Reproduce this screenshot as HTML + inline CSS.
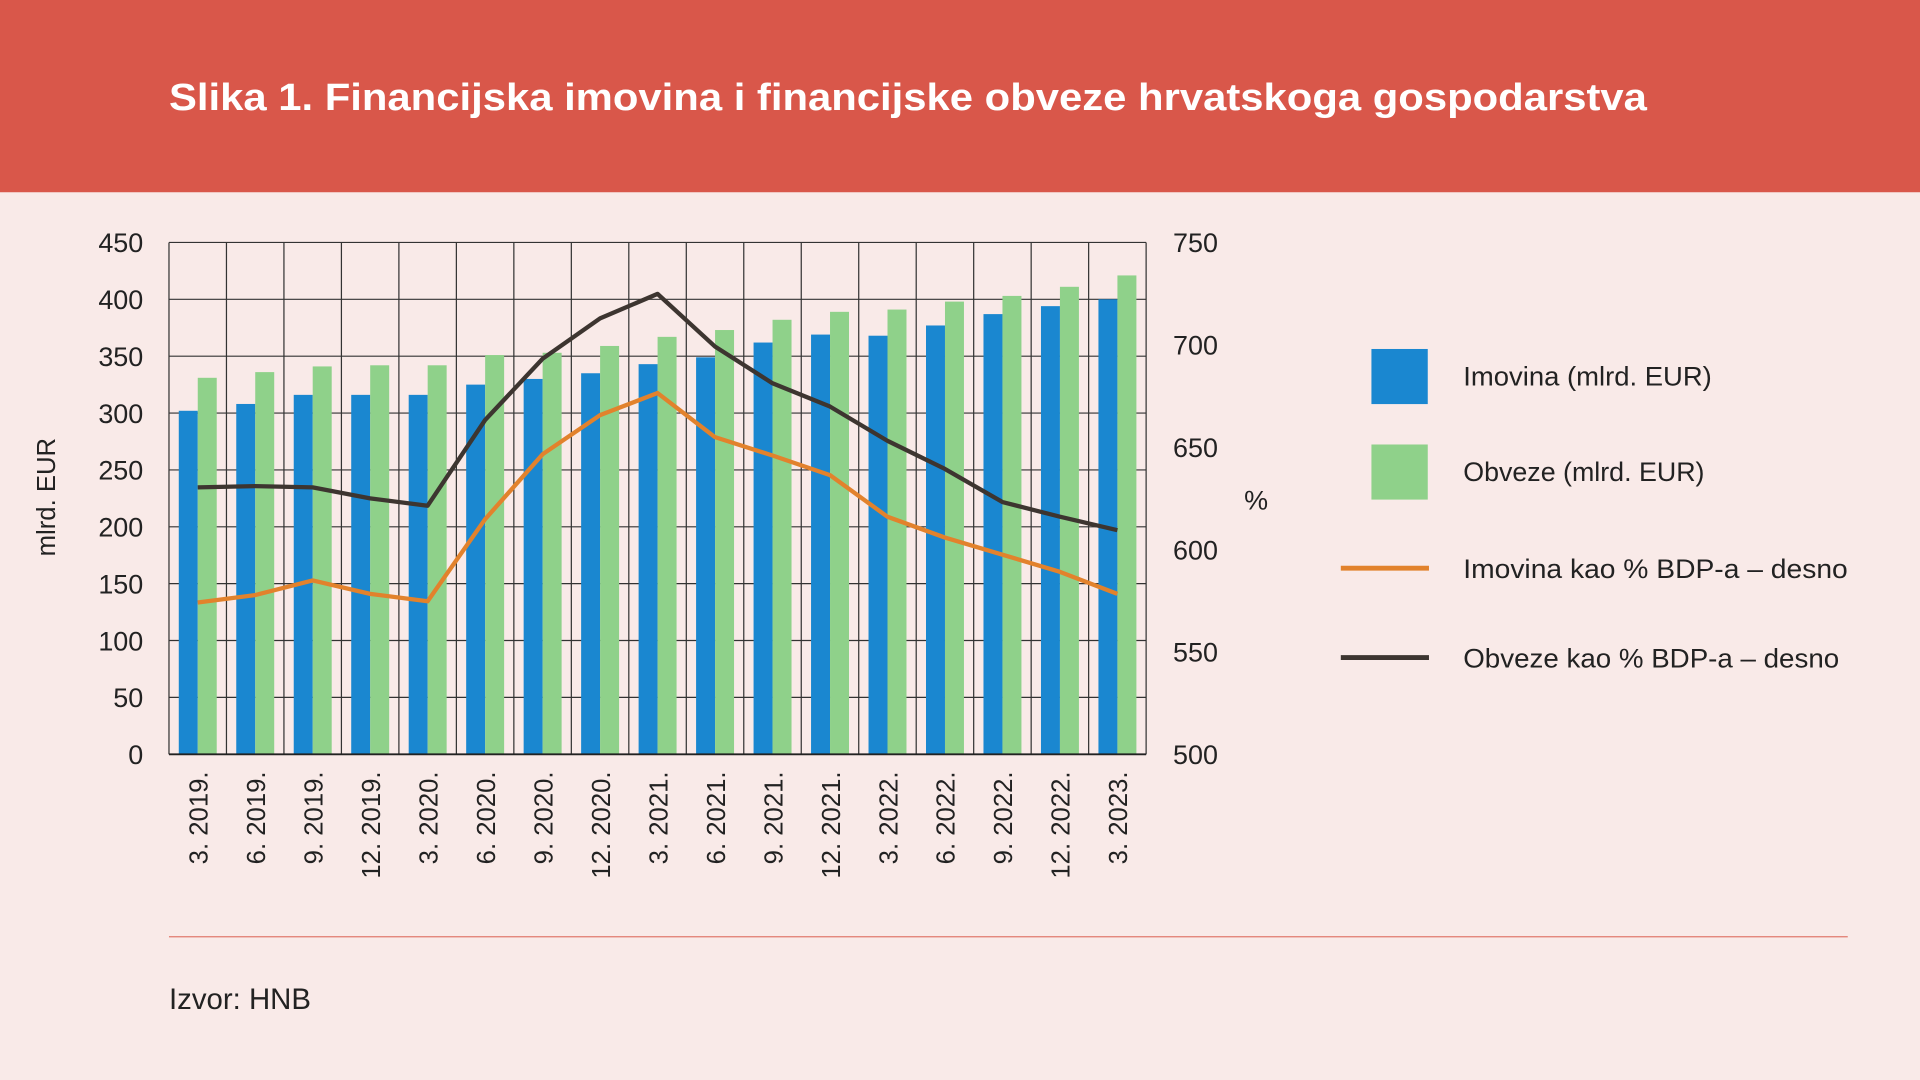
<!DOCTYPE html>
<html><head><meta charset="utf-8"><style>html,body{margin:0;padding:0;background:#f9eae8;}svg{display:block}</style></head>
<body>
<svg width="1920" height="1080" viewBox="0 0 1568 882" xmlns="http://www.w3.org/2000/svg" font-family="Liberation Sans, sans-serif">
<rect width="1568" height="882" fill="#f9eae8"/>
<rect width="1568" height="157" fill="#d9574a"/>
<text x="138" y="90" fill="#fff" font-size="31" font-weight="bold" textLength="1207" lengthAdjust="spacingAndGlyphs">Slika 1. Financijska imovina i financijske obveze hrvatskoga gospodarstva</text>
<g id="chart"></g>
<line x1="138" y1="765" x2="1509" y2="765" stroke="#e07a6e" stroke-width="1"/>
<text x="138" y="824" font-size="24" fill="#222">Izvor: HNB</text>
<g font-size="22" fill="#222">
<rect x="1120" y="285" width="46" height="45" fill="#1a87d0"/>
<text x="1195" y="315" textLength="203" lengthAdjust="spacingAndGlyphs">Imovina (mlrd. EUR)</text>
<rect x="1120" y="363" width="46" height="45" fill="#8fd18a"/>
<text x="1195" y="393" textLength="197" lengthAdjust="spacingAndGlyphs">Obveze (mlrd. EUR)</text>
<line x1="1095" y1="464" x2="1167" y2="464" stroke="#e2822c" stroke-width="4"/>
<text x="1195" y="472" textLength="314" lengthAdjust="spacingAndGlyphs">Imovina kao % BDP-a – desno</text>
<line x1="1095" y1="537" x2="1167" y2="537" stroke="#3d3530" stroke-width="4"/>
<text x="1195" y="545" textLength="307" lengthAdjust="spacingAndGlyphs">Obveze kao % BDP-a – desno</text>
</g>
</svg>
<script>
const g=document.getElementById('chart');const NS='http://www.w3.org/2000/svg';
function el(t,a,txt){const e=document.createElementNS(NS,t);for(const k in a)e.setAttribute(k,a[k]);if(txt)e.textContent=txt;g.appendChild(e);return e;}
const x0=138,x1=936,yb=616,yt=198,n=17,w=(x1-x0)/n;
for(let k=0;k<=9;k++){const y=yb-k*(yb-yt)/9;el('line',{x1:x0,x2:x1,y1:y,y2:y,stroke:'#333','stroke-width':1});
el('text',{x:117,y:y+8,'font-size':22,'text-anchor':'end',fill:'#222'},String(k*50));}
for(let k=0;k<=5;k++){const y=yb-k*(yb-yt)/5;el('text',{x:958,y:y+8,'font-size':22,fill:'#222'},String(500+k*50));}
for(let i=0;i<=n;i++){const x=x0+i*w;el('line',{x1:x,x2:x,y1:yt,y2:yb,stroke:'#333','stroke-width':1});}
const B=[302,308,316,316,316,325,330,335,343,349,362,369,368,377,387,394,400];
const G=[331,336,341,342,342,351,353,359,367,373,382,389,391,398,403,411,421];
const O=[492,486,474,485,491,424,371,339,321,357,372,388,422,439,453,467,485];
const K=[398,397,398,407,413,343,293,260,240,283,313,332,360,383,410,422,433];
const L=['3. 2019.','6. 2019.','9. 2019.','12. 2019.','3. 2020.','6. 2020.','9. 2020.','12. 2020.','3. 2021.','6. 2021.','9. 2021.','12. 2021.','3. 2022.','6. 2022.','9. 2022.','12. 2022.','3. 2023.'];
const s=(yb-yt)/450;
for(let i=0;i<n;i++){const x=x0+i*w;
el('rect',{x:x+8,y:yb-B[i]*s,width:15.5,height:B[i]*s,fill:'#1a87d0'});
el('rect',{x:x+23.5,y:yb-G[i]*s,width:15.5,height:G[i]*s,fill:'#8fd18a'});
const cx=x+w/2+8;el('text',{transform:`translate(${cx},630) rotate(-90)`,'font-size':21,'text-anchor':'end',fill:'#222'},L[i]);}
el('line',{x1:x0,x2:x1,y1:yb,y2:yb,stroke:'#222','stroke-width':1.5});
const pts=a=>a.map((y,i)=>`${x0+w*(i+0.5)},${y}`).join(' ');
el('polyline',{points:pts(O),fill:'none',stroke:'#e2822c','stroke-width':3.5,'stroke-linejoin':'round'});
el('polyline',{points:pts(K),fill:'none',stroke:'#3d3530','stroke-width':3.5,'stroke-linejoin':'round'});
el('text',{transform:'translate(45,406) rotate(-90)','font-size':21,'text-anchor':'middle',fill:'#222'},'mlrd. EUR');
el('text',{x:1016,y:416,'font-size':22,fill:'#222'},'%');
</script>
</body></html>
